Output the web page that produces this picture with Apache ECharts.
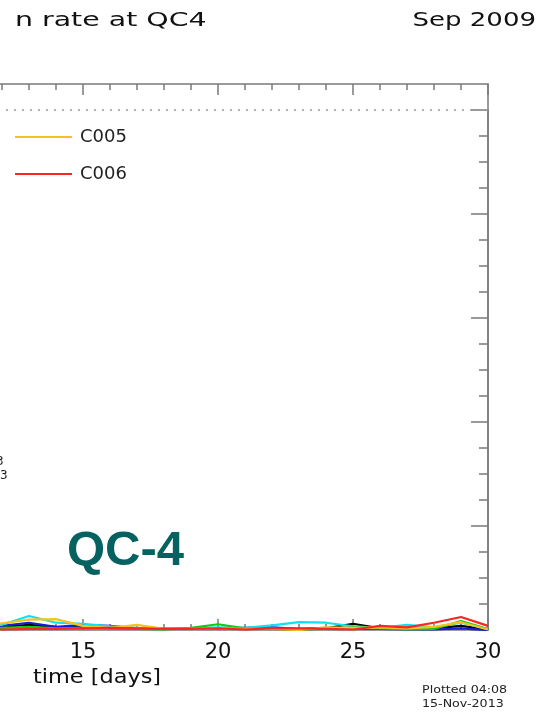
<!DOCTYPE html>
<html>
<head>
<meta charset="utf-8">
<script src="https://cdn.jsdelivr.net/npm/echarts@6/dist/echarts.min.js"></script>
<style>
html,body{margin:0;padding:0;background:#fff;overflow:hidden;width:546px;height:714px;position:relative;}
#chart{position:absolute;left:-332px;top:0;width:878px;height:714px;}
</style>
</head>
<body>
<div id="chart"></div>
<script>
// ---- data ----
const days = [11, 12, 13, 14, 15, 16, 17, 18, 19, 20, 21, 22, 23, 24, 25, 26, 27, 28, 29, 30];
const c001 = [0.004, 0.006, 0.010, 0.006, 0.005, 0.004, 0.003, 0.002, 0.002, 0.003, 0.002, 0.002, 0.001, 0.003, 0.012, 0.003, 0.002, 0.003, 0.008, 0.001];
const c002 = [0.006, 0.008, 0.014, 0.006, 0.010, 0.008, 0.003, 0.002, 0.002, 0.003, 0.004, 0.005, 0.002, 0.004, 0.003, 0.002, 0.001, 0.001, 0.003, 0.000];
const c003 = [0.006, 0.010, 0.027, 0.014, 0.012, 0.007, 0.004, 0.002, 0.003, 0.005, 0.004, 0.009, 0.015, 0.014, 0.007, 0.004, 0.010, 0.005, 0.014, 0.002];
const c004 = [0.003, 0.004, 0.006, 0.003, 0.004, 0.003, 0.002, 0.001, 0.004, 0.011, 0.003, 0.002, 0.001, 0.002, 0.005, 0.003, 0.001, 0.002, 0.017, 0.002];
const c005 = [0.004, 0.013, 0.020, 0.021, 0.008, 0.004, 0.010, 0.002, 0.002, 0.003, 0.002, 0.002, 0.000, 0.005, 0.004, 0.005, 0.003, 0.006, 0.015, 0.001];
const c006 = [0.001, 0.001, 0.002, 0.002, 0.003, 0.004, 0.003, 0.002, 0.002, 0.003, 0.001, 0.003, 0.003, 0.002, 0.001, 0.008, 0.005, 0.014, 0.025, 0.008];
const seriesNames = ['C001', 'C002', 'C003', 'C004', 'C005', 'C006'];
const seriesColors = ['#000000', '#1a1adf', '#10e0f0', '#10cc10', '#f7c21e', '#ff2424'];
const seriesValues = [c001, c002, c003, c004, c005, c006];
const referenceLevel = 1.0;
const xMin = 0, xMax = 30, yMin = 0, yMax = 1.0;

const axisColor = '#7a7a7a';
const font = 'DejaVu Sans';
const OX = 332; // chart container is shifted left by this many pixels

const chart = echarts.init(document.getElementById('chart'), null, {renderer: 'canvas'});

const series = seriesNames.map((name, i) => ({
  name: name,
  type: 'line',
  xAxisIndex: 0,
  yAxisIndex: 0,
  data: days.map((d, j) => [d, seriesValues[i][j]]),
  showSymbol: false,
  symbol: 'none',
  lineStyle: {color: seriesColors[i], width: 2.2},
  itemStyle: {color: seriesColors[i]},
  animation: false,
  z: 2 + i
}));
series[0].markLine = {
  silent: true,
  symbol: 'none',
  label: {show: false},
  lineStyle: {color: '#999', type: [2, 6], width: 1.5},
  data: [{yAxis: referenceLevel}]
};

function ts() { return {color: axisColor, width: 1.5}; }

const option = {
  backgroundColor: '#ffffff',
  animation: false,
  grid: [
    {left: 10, right: 58, top: 110, bottom: 84, containLabel: false, outerBoundsMode: 'none'},
    {left: 10, right: 58, top: 84, bottom: 84, containLabel: false, outerBoundsMode: 'none'}
  ],
  legend: {
    data: ['C005', 'C006'],
    orient: 'vertical',
    left: OX + 10,
    top: 122,
    icon: 'rect',
    itemWidth: 57,
    itemHeight: 2,
    itemGap: 17,
    textStyle: {fontFamily: font, fontSize: 18, color: '#222', lineHeight: 20, padding: [0, 0, 0, 3]}
  },
  xAxis: [
    {
      gridIndex: 0, type: 'value', position: 'bottom', min: xMin, max: xMax, interval: 5,
      axisLine: {show: true, onZero: false, lineStyle: ts()},
      axisTick: {show: true, inside: true, length: 11, lineStyle: ts()},
      minorTick: {show: true, splitNumber: 5, length: 6, lineStyle: ts()},
      splitLine: {show: false},
      axisLabel: {fontFamily: font, fontSize: 21, color: '#111', margin: 12}
    },
    {
      gridIndex: 1, type: 'value', position: 'top', min: xMin, max: xMax, interval: 5,
      axisLine: {show: true, onZero: false, lineStyle: ts()},
      axisTick: {show: true, inside: true, length: 11, lineStyle: ts()},
      minorTick: {show: true, splitNumber: 5, length: 6, lineStyle: ts()},
      splitLine: {show: false},
      axisLabel: {show: false}
    }
  ],
  yAxis: [
    {
      gridIndex: 0, type: 'value', position: 'right', min: yMin, max: yMax, interval: 0.2,
      axisLine: {show: true, onZero: false, lineStyle: ts()},
      axisTick: {show: true, inside: true, length: 17, lineStyle: ts()},
      minorTick: {show: true, splitNumber: 4, length: 9, lineStyle: ts()},
      splitLine: {show: false},
      axisLabel: {show: false}
    },
    {
      gridIndex: 1, type: 'value', position: 'right', min: 0, max: 1,
      axisLine: {show: true, onZero: false, lineStyle: ts()},
      axisTick: {show: false},
      splitLine: {show: false},
      axisLabel: {show: false}
    }
  ],
  graphic: [
    {type: 'text', x: OX + 15, y: 21, scaleX: 1.42, style: {text: 'n rate at QC4', fontFamily: font, fontSize: 20, fill: '#111', textAlign: 'left', textVerticalAlign: 'middle'}},
    {type: 'text', x: OX + 536, y: 21, scaleX: 1.3, style: {text: 'Sep 2009', fontFamily: font, fontSize: 20, fill: '#111', textAlign: 'right', textVerticalAlign: 'middle'}},
    {type: 'text', x: OX + 33, y: 678, scaleX: 1.12, style: {text: 'time [days]', fontFamily: font, fontSize: 20, fill: '#111', textAlign: 'left', textVerticalAlign: 'middle'}},
    {type: 'text', x: OX + 67, y: 551, style: {text: 'QC-4', fontFamily: 'Liberation Sans', fontWeight: 'bold', fontSize: 49, fill: '#066260', textAlign: 'left', textVerticalAlign: 'middle'}},
    {type: 'text', x: OX + 422, y: 690, scaleX: 1.15, style: {text: 'Plotted 04:08', fontFamily: font, fontSize: 11, fill: '#222', textAlign: 'left', textVerticalAlign: 'middle'}},
    {type: 'text', x: OX + 422, y: 704, scaleX: 1.15, style: {text: '15-Nov-2013', fontFamily: font, fontSize: 11, fill: '#222', textAlign: 'left', textVerticalAlign: 'middle'}},
    {type: 'text', x: OX - 4, y: 462, style: {text: '3', fontFamily: font, fontSize: 12, fill: '#222', textAlign: 'left', textVerticalAlign: 'middle'}},
    {type: 'text', x: OX + 0, y: 476, style: {text: '3', fontFamily: font, fontSize: 12, fill: '#222', textAlign: 'left', textVerticalAlign: 'middle'}}
  ],
  series: series
};
chart.setOption(option);
</script>
</body>
</html>
